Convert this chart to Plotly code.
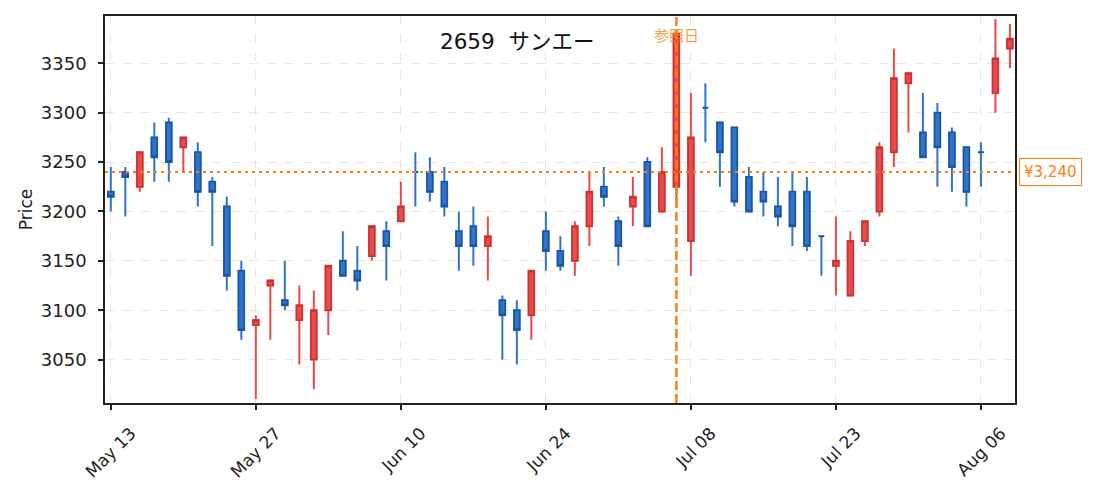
import plotly.graph_objects as go

dates = [
    "2024-05-13", "2024-05-14", "2024-05-15", "2024-05-16", "2024-05-17",
    "2024-05-20", "2024-05-21", "2024-05-22", "2024-05-23", "2024-05-24",
    "2024-05-27", "2024-05-28", "2024-05-29", "2024-05-30", "2024-05-31",
    "2024-06-03", "2024-06-04", "2024-06-05", "2024-06-06", "2024-06-07",
    "2024-06-10", "2024-06-11", "2024-06-12", "2024-06-13", "2024-06-14",
    "2024-06-17", "2024-06-18", "2024-06-19", "2024-06-20", "2024-06-21",
    "2024-06-24", "2024-06-25", "2024-06-26", "2024-06-27", "2024-06-28",
    "2024-07-01", "2024-07-02", "2024-07-03", "2024-07-04", "2024-07-05",
    "2024-07-08", "2024-07-09", "2024-07-10", "2024-07-11", "2024-07-12",
    "2024-07-16", "2024-07-17", "2024-07-18", "2024-07-19", "2024-07-22",
    "2024-07-23", "2024-07-24", "2024-07-25", "2024-07-26", "2024-07-29",
    "2024-07-30", "2024-07-31", "2024-08-01", "2024-08-02", "2024-08-05",
    "2024-08-06", "2024-08-07", "2024-08-08",
]
opens = [3220, 3240, 3225, 3275, 3290, 3265, 3260, 3230, 3205, 3140,
         3085, 3125, 3110, 3090, 3050, 3100, 3150, 3140, 3155, 3180,
         3190, 3240, 3240, 3230, 3180, 3185, 3165, 3110, 3100, 3095,
         3180, 3160, 3150, 3185, 3225, 3190, 3205, 3250, 3200, 3225,
         3170, 3305, 3290, 3285, 3235, 3220, 3205, 3220, 3220, 3175,
         3145, 3115, 3170, 3200, 3260, 3330, 3280, 3300, 3280, 3265,
         3260, 3320, 3365]
highs = [3245, 3245, 3260, 3290, 3295, 3275, 3270, 3235, 3215, 3150,
         3095, 3130, 3150, 3125, 3120, 3145, 3180, 3165, 3185, 3190,
         3230, 3260, 3255, 3245, 3200, 3205, 3195, 3115, 3110, 3140,
         3200, 3175, 3190, 3240, 3245, 3195, 3235, 3255, 3265, 3380,
         3320, 3330, 3290, 3285, 3245, 3240, 3235, 3240, 3235, 3175,
         3195, 3180, 3190, 3270, 3365, 3340, 3320, 3310, 3285, 3265,
         3270, 3395, 3390]
lows = [3200, 3195, 3220, 3230, 3230, 3240, 3205, 3165, 3120, 3070,
        3010, 3070, 3100, 3045, 3020, 3075, 3135, 3120, 3150, 3130,
        3190, 3205, 3210, 3195, 3140, 3145, 3130, 3050, 3045, 3070,
        3140, 3140, 3135, 3165, 3205, 3145, 3185, 3185, 3200, 3205,
        3135, 3270, 3225, 3205, 3200, 3195, 3185, 3165, 3160, 3135,
        3115, 3115, 3165, 3195, 3245, 3280, 3255, 3225, 3220, 3205,
        3225, 3300, 3345]
closes = [3215, 3235, 3260, 3255, 3250, 3275, 3220, 3220, 3135, 3080,
          3090, 3130, 3105, 3105, 3100, 3145, 3135, 3130, 3185, 3165,
          3205, 3240, 3220, 3205, 3165, 3165, 3175, 3095, 3080, 3140,
          3160, 3145, 3185, 3220, 3215, 3165, 3215, 3185, 3240, 3380,
          3275, 3305, 3260, 3210, 3200, 3210, 3195, 3185, 3165, 3175,
          3150, 3170, 3190, 3265, 3335, 3340, 3255, 3265, 3245, 3220,
          3260, 3355, 3375]

tick_dates = ["2024-05-13", "2024-05-27", "2024-06-10", "2024-06-24",
              "2024-07-08", "2024-07-23", "2024-08-06"]
tick_labels = ["May 13", "May 27", "Jun 10", "Jun 24", "Jul 08", "Jul 23", "Aug 06"]
y_ticks = [3050, 3100, 3150, 3200, 3250, 3300, 3350]
ref_date = "2024-07-05"
ref_label = "参照日"
ref_price = 3240
ref_price_label = "¥3,240"
title_text = "2659  サンエー"

UP_FILL = "#e84b4b"
UP_EDGE = "#c93333"
DOWN_FILL = "#2e74c8"
DOWN_EDGE = "#1d52a4"
ORANGE = "#ff7f0e"
FONT = "DejaVu Sans, Noto Sans CJK JP, sans-serif"
CJK = "Noto Sans CJK JP, DejaVu Sans, sans-serif"

fig = go.Figure()
for is_up, fill, edge in [(True, UP_FILL, UP_EDGE), (False, DOWN_FILL, DOWN_EDGE)]:
    idx = [i for i in range(len(dates)) if (closes[i] > opens[i]) == is_up]
    x = [dates[i] for i in idx]
    o = [opens[i] for i in idx]
    h = [highs[i] for i in idx]
    l = [lows[i] for i in idx]
    c = [closes[i] for i in idx]
    # wicks
    fig.add_trace(go.Candlestick(
        x=x, open=o, high=h, low=l, close=c,
        increasing=dict(line=dict(color=fill, width=2), fillcolor=fill),
        decreasing=dict(line=dict(color=fill, width=2), fillcolor=fill),
        showlegend=False, hoverinfo="skip"))
    # bodies
    fig.add_trace(go.Candlestick(
        x=x, open=o, close=c,
        high=[max(a, b) for a, b in zip(o, c)],
        low=[min(a, b) for a, b in zip(o, c)],
        increasing=dict(line=dict(color=edge, width=1.5), fillcolor=fill),
        decreasing=dict(line=dict(color=edge, width=1.5), fillcolor=fill),
        showlegend=False))

axis_common = dict(
    ticks="outside", ticklen=5, tickwidth=1.5, tickcolor="#222",
    showline=True, linecolor="#222", linewidth=1.5, mirror=True,
    showgrid=True, gridcolor="#e6e6e6", griddash="dash", gridwidth=1,
    zeroline=False,
)

fig.update_layout(
    width=1095, height=492,
    margin=dict(l=97, r=88, t=6, b=97),
    plot_bgcolor="white", paper_bgcolor="white",
    font=dict(family=FONT, size=17, color="#222"),
    boxgap=0.45,
    showlegend=False,
    xaxis=dict(
        type="category", categoryorder="array", categoryarray=dates,
        range=[-0.4, 62.35], rangeslider=dict(visible=False),
        tickmode="array", tickvals=tick_dates, ticktext=tick_labels,
        tickangle=-45, ticklabelshift=20, ticklabelstandoff=7,
        tickfont=dict(size=17, color="#222", family=FONT),
        **axis_common),
    yaxis=dict(
        range=[3006, 3398], tickmode="array", tickvals=y_ticks,
        ticklabelstandoff=8,
        tickfont=dict(size=18, color="#222", family=FONT),
        title=dict(text="Price", font=dict(size=17, family=FONT), standoff=4),
        **axis_common),
    shapes=[
        dict(type="line", xref="paper", x0=0, x1=1, yref="y", y0=ref_price, y1=ref_price,
             line=dict(color=ORANGE, width=2, dash="3px,4px"), layer="above"),
        dict(type="line", xref="x", x0=ref_date, x1=ref_date, yref="paper", y0=0, y1=1,
             line=dict(color=ORANGE, width=2.5, dash="9px,4px"), layer="above"),
    ],
    annotations=[
        dict(text=title_text, xref="paper", yref="paper", x=0.4527, y=0.933,
             xanchor="center", yanchor="middle", showarrow=False,
             font=dict(size=21.5, color="#111", family=FONT)),
        dict(text=ref_label, xref="x", yref="paper", x=ref_date, y=0.951,
             xanchor="center", yanchor="middle", showarrow=False,
             font=dict(size=15, color="rgba(255,127,14,0.8)", family=CJK)),
        dict(text=ref_price_label, xref="paper", yref="y", x=1, y=ref_price,
             xanchor="left", yanchor="middle", xshift=4, showarrow=False,
             bgcolor="white", bordercolor=ORANGE, borderwidth=1, borderpad=4,
             font=dict(size=15, color=ORANGE, family=FONT)),
    ],
)

fig.write_html("out.html")
